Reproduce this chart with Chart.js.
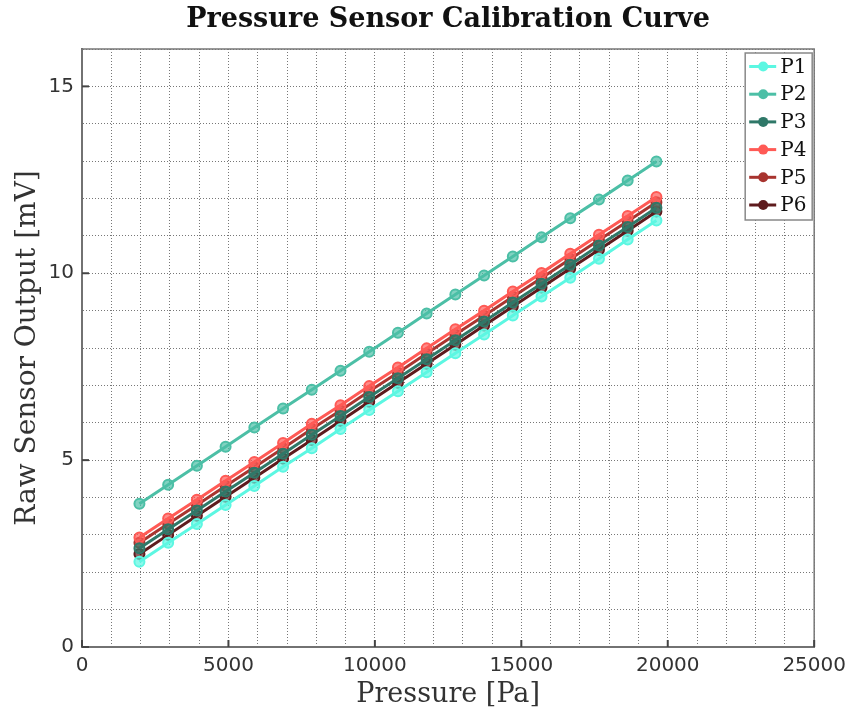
<!DOCTYPE html>
<html>
<head>
<meta charset="utf-8">
<script src="https://cdn.jsdelivr.net/npm/chart.js@4/dist/chart.umd.min.js"></script>
<style>
  html, body { margin: 0; padding: 0; background: #ffffff; }
  #wrap { width: 853px; height: 711px; }
</style>
</head>
<body>
<div id="wrap"><canvas id="c" width="853" height="711"></canvas></div>
<script>
// ---- data ----
const pressurePa = [1961, 2942, 3923, 4903, 5884, 6865, 7845, 8826, 9807, 10787,
                    11768, 12748, 13729, 14710, 15690, 16671, 17652, 18632, 19613];
const seriesNames = ["P1", "P2", "P3", "P4", "P5", "P6"];
const p1 = [2.28, 2.79, 3.29, 3.80, 4.31, 4.82, 5.32, 5.83, 6.34, 6.84, 7.35, 7.86, 8.36, 8.87, 9.38, 9.88, 10.39, 10.90, 11.41];
const p2 = [3.83, 4.34, 4.85, 5.36, 5.87, 6.38, 6.88, 7.39, 7.90, 8.41, 8.92, 9.43, 9.94, 10.45, 10.96, 11.47, 11.97, 12.48, 12.99];
const p3 = [2.64, 3.15, 3.65, 4.16, 4.66, 5.17, 5.68, 6.18, 6.69, 7.19, 7.70, 8.21, 8.71, 9.22, 9.72, 10.23, 10.74, 11.24, 11.75];
const p4 = [2.93, 3.44, 3.94, 4.45, 4.95, 5.46, 5.97, 6.47, 6.98, 7.48, 7.99, 8.50, 9.00, 9.51, 10.01, 10.52, 11.03, 11.53, 12.04];
const p5 = [2.79, 3.30, 3.80, 4.31, 4.81, 5.32, 5.83, 6.33, 6.84, 7.34, 7.85, 8.36, 8.86, 9.37, 9.87, 10.38, 10.89, 11.39, 11.90];
const p6 = [2.49, 3.00, 3.51, 4.02, 4.53, 5.04, 5.54, 6.05, 6.56, 7.07, 7.58, 8.09, 8.60, 9.11, 9.62, 10.13, 10.63, 11.14, 11.65];
const seriesValues = [p1, p2, p3, p4, p5, p6];
const xTickLabels = ["0", "5000", "10000", "15000", "20000", "25000"];
const yTickLabels = ["0", "5", "10", "15"];
const titleText = "Pressure Sensor Calibration Curve";
const xTitle = "Pressure [Pa]";
const yTitle = "Raw Sensor Output [mV]";

// ---- styles ----
const colors = ["#5cf7e2", "#4cbfa6", "#2f7868", "#ff5a55", "#a8342f", "#5e1b1d"];
const serif = "'DejaVu Serif', serif";
const sans = "'DejaVu Sans', sans-serif";

function withAlpha(hex, a) {
  const r = parseInt(hex.slice(1, 3), 16), g = parseInt(hex.slice(3, 5), 16), b = parseInt(hex.slice(5, 7), 16);
  return `rgba(${r},${g},${b},${a})`;
}

const datasets = seriesNames.map((name, i) => ({
  label: name,
  data: pressurePa.map((x, k) => ({ x: x, y: seriesValues[i][k] })),
  borderColor: colors[i],
  backgroundColor: colors[i],
  pointBackgroundColor: withAlpha(colors[i], 0.7),
  pointBorderColor: colors[i],
  pointRadius: 5,
  pointBorderWidth: 2,
  borderWidth: 3,
  tension: 0,
  fill: false
}));

// frame + inner tick marks
const framePlugin = {
  id: 'frame',
  afterDraw(chart) {
    const { ctx, chartArea: a, scales } = chart;
    ctx.save();
    ctx.setLineDash([]);
    ctx.strokeStyle = '#777';
    ctx.lineWidth = 1.5;
    ctx.strokeRect(a.left, a.top, a.right - a.left, a.bottom - a.top);
    ctx.strokeStyle = '#444';
    ctx.lineWidth = 2;
    xTickLabels.forEach(t => {
      const px = scales.x.getPixelForValue(Number(t));
      ctx.beginPath(); ctx.moveTo(px, a.bottom); ctx.lineTo(px, a.bottom - 7); ctx.stroke();
    });
    yTickLabels.forEach(t => {
      const py = scales.y.getPixelForValue(Number(t));
      ctx.beginPath(); ctx.moveTo(a.left, py); ctx.lineTo(a.left + 7, py); ctx.stroke();
    });
    ctx.restore();
  }
};

// legend drawn inside the plot area (top-right), built from the datasets
const insideLegend = {
  id: 'insideLegend',
  afterDraw(chart) {
    const { ctx, chartArea: a } = chart;
    const boxW = 67, rowH = 27.7, boxH = 167;
    const right = a.right - 2, left = right - boxW, top = a.top + 4;
    ctx.save();
    ctx.fillStyle = '#ffffff';
    ctx.fillRect(left, top, boxW, boxH);
    ctx.strokeStyle = '#888';
    ctx.lineWidth = 1.5;
    ctx.strokeRect(left, top, boxW, boxH);
    ctx.font = "20px " + serif;
    ctx.textBaseline = 'middle';
    ctx.textAlign = 'left';
    chart.data.datasets.forEach((ds, i) => {
      const cy = top + 13.5 + i * rowH;
      ctx.strokeStyle = ds.borderColor;
      ctx.lineWidth = 3;
      ctx.beginPath(); ctx.moveTo(left + 4, cy); ctx.lineTo(left + 31, cy); ctx.stroke();
      ctx.beginPath(); ctx.arc(left + 18, cy, 5, 0, Math.PI * 2);
      ctx.fillStyle = ds.borderColor; ctx.fill();
      ctx.fillStyle = '#111';
      ctx.fillText(ds.label, left + 35, cy + 1);
    });
    ctx.restore();
  }
};

new Chart(document.getElementById('c'), {
  type: 'line',
  data: { datasets: datasets },
  plugins: [framePlugin, insideLegend],
  options: {
    responsive: false,
    animation: false,
    devicePixelRatio: 1,
    layout: { padding: { left: 0, right: 38, top: 0, bottom: 0 } },
    plugins: {
      legend: { display: false },
      tooltip: { enabled: false },
      title: {
        display: true,
        fullSize: false,
        text: titleText,
        color: '#111',
        font: { family: serif, size: 27, weight: 'bold', lineHeight: 1.2 },
        padding: { top: 4, bottom: 12.6 }
      }
    },
    scales: {
      x: {
        type: 'linear',
        min: 0, max: 25000,
        afterFit(s) { s.height = 64; },
        border: { display: true, color: '#666', width: 2, dash: [1, 2] },
        grid: { color: '#777', lineWidth: 1, drawTicks: false },
        ticks: {
          stepSize: 1000, autoSkip: false, maxRotation: 0, padding: 7,
          color: '#333', font: { family: sans, size: 20 },
          callback: v => xTickLabels.includes(String(v)) ? String(v) : ''
        },
        title: {
          display: true, text: xTitle, color: '#333',
          font: { family: serif, size: 27 }, padding: { top: 3, bottom: 0 }
        }
      },
      y: {
        type: 'linear',
        min: 0, max: 16,
        afterFit(s) { s.width = 82; },
        border: { display: true, color: '#666', width: 2, dash: [1, 2] },
        grid: { color: '#777', lineWidth: 1, drawTicks: false },
        ticks: {
          stepSize: 1, autoSkip: false, padding: 8,
          color: '#333', font: { family: sans, size: 20 },
          callback: v => yTickLabels.includes(String(v)) ? String(v) : ''
        },
        title: {
          display: true, text: yTitle, color: '#333',
          font: { family: serif, size: 28 }, padding: { top: 11, bottom: 4 }
        }
      }
    }
  }
});
</script>
</body>
</html>
